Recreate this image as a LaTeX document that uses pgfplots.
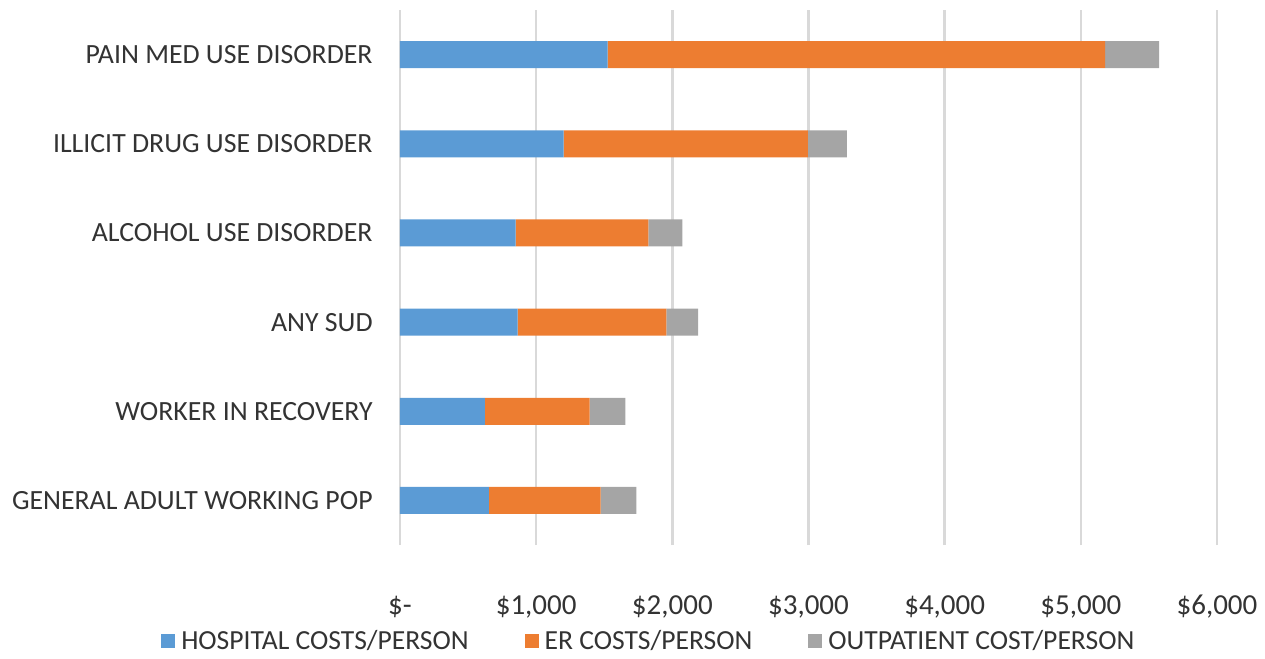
\documentclass[border=0pt]{standalone}
\usepackage{fontspec}
\setmainfont{Carlito}
\usepackage{pgfplots}
\pgfplotsset{compat=1.18}
\definecolor{cblue}{HTML}{5B9BD5}
\definecolor{corange}{HTML}{ED7D31}
\definecolor{cgray}{HTML}{A5A5A5}
\definecolor{cgrid}{HTML}{D9D9D9}
\begin{document}
\begin{tikzpicture}
\begin{axis}[
  scale only axis,
  width=408.5bp, height=267.5bp,
  xbar stacked,
  bar width=13.5bp,
  xmin=0, xmax=6000,
  ymin=-0.5, ymax=5.5,
  xtick={0,1000,2000,3000,4000,5000,6000},
  xticklabels={{\$-},{\$1,000},{\$2,000},{\$3,000},{\$4,000},{\$5,000},{\$6,000}},
  ytick={0,1,2,3,4,5},
  yticklabels={GENERAL ADULT WORKING POP, WORKER IN RECOVERY, ANY SUD, ALCOHOL USE DISORDER, ILLICIT DRUG USE DISORDER, PAIN MED USE DISORDER},
  major tick length=0pt,
  axis line style={draw=none},
  xmajorgrids,
  grid style={cgrid, line width=1.2bp},
  xticklabel style={anchor=center, yshift=-31bp, font=\fontsize{14.5bp}{17bp}\selectfont, text=black!80},
  yticklabel style={anchor=east, inner sep=0pt, xshift=-13.5bp, font=\fontsize{13.9bp}{16bp}\selectfont, text=black!80},
  legend style={draw=none, at={(0.307,-0.18)}, anchor=center, legend columns=3,
    font=\fontsize{13.8bp}{16bp}\selectfont, text=black!80,
    nodes={inner xsep=3bp},
    /tikz/every even column/.append style={column sep=25bp}},
  legend image code/.code={\fill[#1] (0bp,-3.5bp) rectangle (7bp,3.5bp);},
]
\addplot[fill=cblue, draw=none] coordinates {(652,0) (623,1) (864,2) (850,3) (1201,4) (1524,5)};
\addplot[fill=corange, draw=none] coordinates {(821,0) (769,1) (1092,2) (974,3) (1795,4) (3655,5)};
\addplot[fill=cgray, draw=none] coordinates {(263,0) (264,1) (234,2) (249,3) (286,4) (396,5)};
\legend{HOSPITAL COSTS/PERSON, ER COSTS/PERSON, OUTPATIENT COST/PERSON}
\end{axis}
\pgfresetboundingbox
\path (-200bp,-57bp) rectangle (432.5bp,272.5bp);
\end{tikzpicture}
\end{document}
